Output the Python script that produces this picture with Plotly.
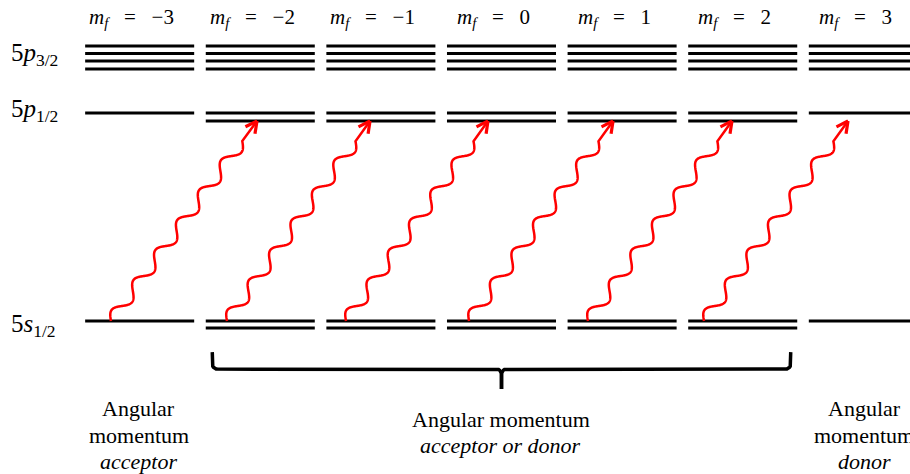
import numpy as np
import plotly.graph_objects as go

# ---------------- diagram data ----------------
MF = [-3, -2, -1, 0, 1, 2, 3]

# sublevel energies in arbitrary units (5s1/2 upper line = 0, 5p1/2 upper line = 1)
E_5S12 = [0.0, -0.034]
E_5P12 = [1.0, 0.962]
E_5P32 = [1.212, 1.250, 1.286, 1.322]

# number of sublevels drawn in each m_f column
N_5S12 = [1, 2, 2, 2, 2, 2, 1]
N_5P12 = [1, 2, 2, 2, 2, 2, 1]
N_5P32 = [4, 4, 4, 4, 4, 4, 4]

STATE_NAMES = [("p", "3/2"), ("p", "1/2"), ("s", "1/2")]

# photon transitions: start on 5s1/2 (x in m_f units), end on lower 5p1/2 line
PHOTON_FROM = [-3.238, -2.276, -1.289, -0.269, 0.717, 1.679]
PHOTON_TO = [-2.027, -1.090, -0.112, 0.925, 1.911, 2.873]

BRACE_SPAN = (-2, 2)

GROUP_TEXT = [
    ["Angular", "momentum", "<i>acceptor</i>"],
    ["Angular momentum", "<i>acceptor or donor</i>"],
    ["Angular", "momentum", "<i>donor</i>"],
]
GROUP_X = [-3, 0, 3]

# ---------------- geometry helpers ----------------
W, H = 910, 474
X_RANGE = [-4.158, 3.387]
Y_RANGE = [-0.7356, 1.5433]
HALF_WIDTH = 0.452  # half length of a level line in m_f units


def px_x(x):
    return (np.asarray(x, float) - X_RANGE[0]) / (X_RANGE[1] - X_RANGE[0]) * W


def px_y(y):
    return (Y_RANGE[1] - np.asarray(y, float)) / (Y_RANGE[1] - Y_RANGE[0]) * H


def dx_from_px(p):
    return X_RANGE[0] + np.asarray(p, float) / W * (X_RANGE[1] - X_RANGE[0])


def dy_from_px(p):
    return Y_RANGE[1] - np.asarray(p, float) / H * (Y_RANGE[1] - Y_RANGE[0])


# ---------------- level lines ----------------
lx, ly = [], []
for i, m in enumerate(MF):
    for energies, counts in ((E_5S12, N_5S12), (E_5P12, N_5P12), (E_5P32, N_5P32)):
        for e in energies[:counts[i]]:
            lx += [m - HALF_WIDTH, m + HALF_WIDTH, None]
            ly += [e, e, None]

fig = go.Figure()
fig.add_trace(go.Scatter(x=lx, y=ly, mode="lines",
                         line=dict(color="black", width=3), hoverinfo="skip"))

# ---------------- wavy photon arrows ----------------
wx, wy, hx, hy = [], [], [], []
AMP, PERIODS, TAIL = 6.0, 6, 25.0
HEAD_LEN, HEAD_ANG = 13.0, np.radians(27)
for x0, x1 in zip(PHOTON_FROM, PHOTON_TO):
    sx, sy = float(px_x(x0)), float(px_y(E_5S12[0]))
    ex, ey = float(px_x(x1)), float(px_y(E_5P12[1]))
    L = np.hypot(ex - sx, ey - sy)
    d = np.array([(ex - sx) / L, (ey - sy) / L])
    n = np.array([-d[1], d[0]])
    Lw = L - TAIL
    lam = Lw / PERIODS
    t = np.linspace(0, Lw, 600)
    off = -AMP * np.sin(2 * np.pi * t / lam)
    px = sx + t * d[0] + off * n[0]
    py = sy + t * d[1] + off * n[1]
    px = np.append(px, ex)
    py = np.append(py, ey)
    wx += list(dx_from_px(px)) + [None]
    wy += list(dy_from_px(py)) + [None]
    # open arrow head
    back = -d
    for sgn in (1, -1):
        c, s = np.cos(sgn * HEAD_ANG), np.sin(sgn * HEAD_ANG)
        v = np.array([c * back[0] - s * back[1], s * back[0] + c * back[1]])
        hx += [float(dx_from_px(ex + HEAD_LEN * v[0])), float(dx_from_px(ex)), None]
        hy += [float(dy_from_px(ey + HEAD_LEN * v[1])), float(dy_from_px(ey)), None]

fig.add_trace(go.Scatter(x=wx, y=wy, mode="lines",
                         line=dict(color="#ff0000", width=2.5, simplify=False),
                         hoverinfo="skip"))
fig.add_trace(go.Scatter(x=hx, y=hy, mode="lines",
                         line=dict(color="#ff0000", width=3.2), hoverinfo="skip"))

# ---------------- brace under the middle columns ----------------
INSET = 6.5
bl = float(px_x(BRACE_SPAN[0] - HALF_WIDTH)) + INSET
br = float(px_x(BRACE_SPAN[1] + HALF_WIDTH)) - INSET
base = float(px_y(E_5S12[1]))
top, bar, tip = base + 24, base + 41, base + 61
bm = (bl + br) / 2
R = 5.0


def arc(cx, cy, a0, a1, k=8):
    a = np.linspace(a0, a1, k)
    return list(cx + R * np.cos(a)), list(cy + R * np.sin(a))


bx, by = [], []
for side in (1, -1):
    xe = bl if side == 1 else br
    ax, ay = arc(xe + side * R, bar - R, np.pi if side == 1 else 0,
                 np.pi / 2, 8)
    tx, ty = arc(bm - side * R, bar + R, -np.pi / 2, 0 if side == 1 else -np.pi, 8)
    xs = [xe] + ax + tx + [bm]
    ys = [top] + ay + ty + [tip]
    bx += list(dx_from_px(xs)) + [None]
    by += list(dy_from_px(ys)) + [None]

fig.add_trace(go.Scatter(x=bx, y=by, mode="lines",
                         line=dict(color="black", width=3.5), hoverinfo="skip"))

# ---------------- text ----------------
SERIF = "Liberation Serif"
MATH_FONT = dict(family=SERIF, size=21, color="black")
TEXT_FONT = dict(family=SERIF, size=22, color="black")

for m in MF:
    sign = "\u2212" if m < 0 else ""
    fig.add_annotation(x=m, y=float(dy_from_px(18)), xshift=-8,
                       text=f"<i>m</i><sub><i>f</i></sub>\u00a0\u00a0\u00a0=\u00a0\u00a0\u00a0{sign}{abs(m)}",
                       showarrow=False, xanchor="center", yanchor="middle",
                       font=MATH_FONT)

label_px = [54, 110, 325]
for (orb, j), yp in zip(STATE_NAMES, label_px):
    lab = f"5<i>{orb}</i><sub>{j}</sub>"
    fig.add_annotation(x=float(dx_from_px(9)), y=float(dy_from_px(yp)), text=lab,
                       showarrow=False, xanchor="left", yanchor="middle",
                       font=dict(family=SERIF, size=25, color="black"))

baselines = [[416, 443, 469], [427, 453], [416, 443, 469]]
for gx, lines, bls in zip(GROUP_X, GROUP_TEXT, baselines):
    cx = float(px_x(gx)) + (1 if gx == 3 else -1)
    for txt, b in zip(lines, bls):
        fig.add_annotation(x=float(dx_from_px(cx)), y=float(dy_from_px(b - 0.3375 * 22)),
                           text=txt, showarrow=False, xanchor="center", yanchor="middle",
                           font=TEXT_FONT)

fig.update_layout(
    width=W, height=H,
    margin=dict(l=0, r=0, t=0, b=0),
    paper_bgcolor="white", plot_bgcolor="white",
    showlegend=False,
    xaxis=dict(range=X_RANGE, visible=False, fixedrange=True),
    yaxis=dict(range=Y_RANGE, visible=False, fixedrange=True),
)

fig.write_html("out.html")
